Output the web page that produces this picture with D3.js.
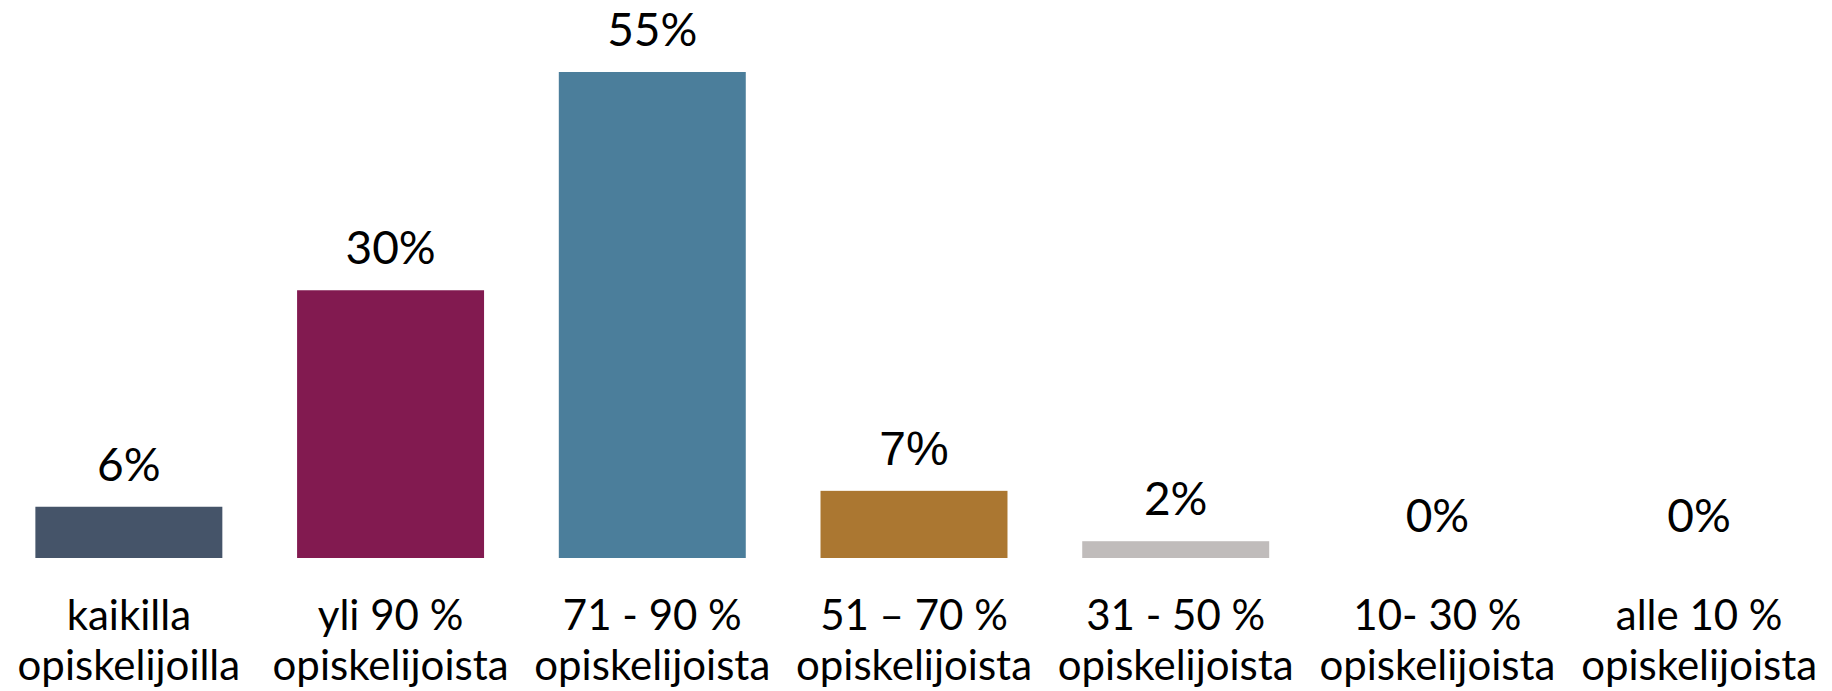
<!DOCTYPE html>
<html>
<head>
<meta charset="utf-8">
<script src="https://cdn.jsdelivr.net/npm/d3@7"></script>
<style>
  html, body { margin: 0; padding: 0; background: #fff; }
  svg { display: block; }
</style>
</head>
<body>
<div id="chart"></div>
<script>
const width = 1832;
const height = 691;

// categories (two lines each) and values
const categories = [
    ["kaikilla", "opiskelijoilla"],
    ["yli 90 %", "opiskelijoista"],
    ["71 - 90 %", "opiskelijoista"],
    ["51 – 70 %", "opiskelijoista"],
    ["31 - 50 %", "opiskelijoista"],
    ["10- 30 %", "opiskelijoista"],
    ["alle 10 %", "opiskelijoista"]
];
const values = [5.8, 30.3, 55, 7.6, 1.9, 0, 0];
const valueLabels = ["6%", "30%", "55%", "7%", "2%", "0%", "0%"];
const colors = ["#455469", "#821A50", "#4B7E9B", "#AB7731", "#C0BCBB", "#999999", "#999999"];

const keys = categories.map(c => c.join(" "));

const svg = d3.select("#chart")
    .append("svg")
    .attr("width", width)
    .attr("height", height);

const x = d3.scaleBand()
    .domain(keys)
    .range([-2, 1830])
    .paddingInner(0.2856)
    .paddingOuter(0.1428);

// baseline at 558, 55% reaches y=72
const y = d3.scaleLinear()
    .domain([0, 55])
    .range([558, 72]);

const data = keys.map((k, i) => ({ key: k, value: values[i], label: valueLabels[i], color: colors[i] }));

svg.selectAll(".bar")
    .data(data.filter(d => d.value > 0))
    .enter()
    .append("rect")
    .attr("class", "bar")
    .attr("x", d => x(d.key))
    .attr("y", d => y(d.value))
    .attr("width", x.bandwidth())
    .attr("height", d => y(0) - y(d.value))
    .attr("fill", d => d.color);

// value labels above bars (the 7% one is set in a different font in the original)
svg.selectAll(".value")
    .data(data)
    .enter()
    .append("text")
    .attr("class", "value")
    .attr("x", d => x(d.key) + x.bandwidth() / 2)
    .attr("y", d => y(d.value) - 26)
    .attr("text-anchor", "middle")
    .style("font-family", (d, i) => i === 3 ? "'Liberation Sans', Arial, sans-serif" : "Lato, sans-serif")
    .style("font-size", (d, i) => i === 3 ? "48px" : "46px")
    .style("fill", "#000")
    .text(d => d.label);

// category axis, two-line labels
const axis = svg.append("g")
    .attr("transform", `translate(0,${y(0)})`)
    .call(d3.axisBottom(x).tickSize(0).tickPadding(0));

axis.select(".domain").remove();

axis.selectAll(".tick text")
    .attr("y", 0)
    .attr("dy", null)
    .style("font-family", "Lato, sans-serif")
    .style("font-size", "42px")
    .style("fill", "#000")
    .text(null)
    .each(function(d, i) {
        const t = d3.select(this);
        categories[i].forEach((line, j) => {
            t.append("tspan")
                .attr("x", 0)
                .attr("y", 72 + j * 50)
                .text(line);
        });
    });
</script>
</body>
</html>
